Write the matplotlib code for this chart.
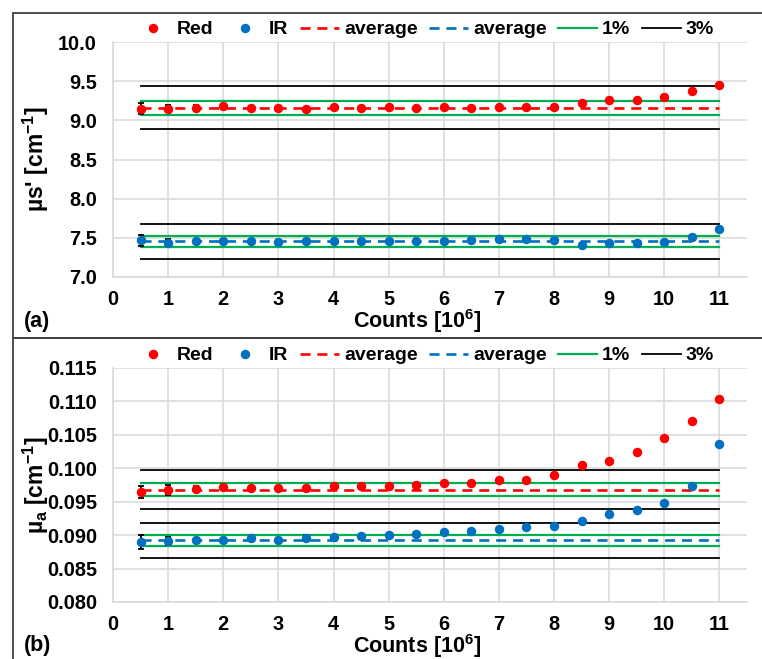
import numpy as np
import matplotlib
matplotlib.use("Agg")
import matplotlib.pyplot as plt
from matplotlib.patches import Rectangle
from matplotlib.ticker import FormatStrFormatter

plt.rcParams['font.family'] = ['Liberation Sans', 'DejaVu Sans']
plt.rcParams['font.weight'] = 'bold'
plt.rcParams['mathtext.fontset'] = 'custom'
plt.rcParams['mathtext.rm'] = 'Liberation Sans:bold'
plt.rcParams['mathtext.bf'] = 'Liberation Sans:bold'
plt.rcParams['mathtext.it'] = 'Liberation Sans:bold'

# conteos (10^6)
counts = [0.5, 1, 1.5, 2, 2.5, 3, 3.5, 4, 4.5, 5, 5.5, 6, 6.5, 7, 7.5, 8,
          8.5, 9, 9.5, 10, 10.5, 11]

# panel (a): mu_s'
mus_red = [9.15, 9.15, 9.16, 9.185, 9.16, 9.16, 9.145, 9.17, 9.16, 9.165, 9.155,
           9.165, 9.155, 9.175, 9.175, 9.175, 9.225, 9.255, 9.255, 9.30, 9.375, 9.455]
mus_red_err = [0.065, 0.045, 0.03, 0.02, 0.02, 0.02, 0.02, 0.02, 0.02, 0.02, 0.02,
               0.02, 0.02, 0.02, 0.02, 0.02, 0.02, 0.02, 0.02, 0.02, 0.02, 0.02]
mus_ir = [7.47, 7.44, 7.455, 7.465, 7.465, 7.45, 7.455, 7.465, 7.465, 7.465, 7.465,
          7.465, 7.475, 7.49, 7.485, 7.475, 7.41, 7.43, 7.43, 7.445, 7.505, 7.615]
mus_ir_err = [0.07, 0.04, 0.03, 0.02, 0.02, 0.02, 0.02, 0.02, 0.02, 0.02, 0.02,
              0.02, 0.02, 0.02, 0.02, 0.02, 0.02, 0.02, 0.02, 0.02, 0.02, 0.02]
mus_red_avg = 9.158
mus_ir_avg = 7.455

# panel (b): mu_a
mua_red = [0.0965, 0.0968, 0.0969, 0.0972, 0.0970, 0.0970, 0.0970, 0.0974, 0.0973,
           0.0974, 0.0975, 0.0978, 0.0978, 0.0982, 0.0983, 0.0990, 0.1005, 0.1011,
           0.1024, 0.1045, 0.1070, 0.1104]
mua_red_err = [0.0009, 0.00075, 0.00045, 0.0003, 0.0003, 0.0003, 0.0003, 0.0003,
               0.0003, 0.0003, 0.0003, 0.0003, 0.0003, 0.0003, 0.0003, 0.0003,
               0.0003, 0.0003, 0.0003, 0.0003, 0.0003, 0.0003]
mua_ir = [0.0890, 0.0891, 0.0893, 0.0893, 0.0895, 0.0892, 0.0895, 0.0897, 0.0899,
          0.0900, 0.0902, 0.0904, 0.0906, 0.0909, 0.0912, 0.0913, 0.0921, 0.0932,
          0.0937, 0.0948, 0.0973, 0.1037]
mua_ir_err = [0.001, 0.0006, 0.0003, 0.0003, 0.0003, 0.0003, 0.00045, 0.0003,
              0.0003, 0.0003, 0.0003, 0.0003, 0.0003, 0.0003, 0.0003, 0.0003,
              0.0003, 0.0003, 0.0003, 0.0003, 0.0003, 0.0003]
mua_red_avg = 0.0968
mua_ir_avg = 0.0892

x_ticks = list(range(0, 12))
mus_ticks = [7.0, 7.5, 8.0, 8.5, 9.0, 9.5, 10.0]
mua_ticks = [0.080, 0.085, 0.090, 0.095, 0.100, 0.105, 0.110, 0.115]

RED = '#FF0000'
BLUE = '#0070C0'
GREEN = '#00B050'
W, H = 762, 659


def graficar_panel(ax, rojo, rojo_err, ir, ir_err, avg_rojo, avg_ir,
                   yticks, formato, ylabel):
    x0, x1 = counts[0], counts[-1]
    # bandas de 3% y 1%
    for avg in [avg_rojo, avg_ir]:
        l3, = ax.plot([x0, x1], [avg * 1.03, avg * 1.03], color='black', lw=1.3, zorder=2)
        ax.plot([x0, x1], [avg * 0.97, avg * 0.97], color='black', lw=1.3, zorder=2)
        l1, = ax.plot([x0, x1], [avg * 1.01, avg * 1.01], color=GREEN, lw=1.6, zorder=2)
        ax.plot([x0, x1], [avg * 0.99, avg * 0.99], color=GREEN, lw=1.6, zorder=2)

    l_avg_r, = ax.plot([x0, x1], [avg_rojo, avg_rojo], color=RED, lw=1.9,
                       dashes=(3.8, 2.6), zorder=3)
    l_avg_b, = ax.plot([x0, x1], [avg_ir, avg_ir], color=BLUE, lw=1.9,
                       dashes=(3.8, 2.6), zorder=3)

    ax.errorbar(counts, rojo, yerr=rojo_err, fmt='none', ecolor='black',
                elinewidth=1.3, capsize=2.5, capthick=1.3, zorder=4)
    ax.errorbar(counts, ir, yerr=ir_err, fmt='none', ecolor='black',
                elinewidth=1.3, capsize=2.5, capthick=1.3, zorder=4)
    p_r, = ax.plot(counts, rojo, 'o', color=RED, ms=5.8, zorder=5)
    p_b, = ax.plot(counts, ir, 'o', color=BLUE, ms=5.8, zorder=5)

    ax.legend([p_r, p_b, l_avg_r, l_avg_b, l1, l3],
              ['Red', 'IR', 'average', 'average', '1%', '3%'],
              loc='center', bbox_to_anchor=(0.49, 1.053), ncol=6,
              frameon=False, fontsize=14, handlelength=2.0, handletextpad=0.25,
              columnspacing=0.6, borderaxespad=0)

    ax.set_xlim(0, 11.5)
    ax.set_ylim(yticks[0], yticks[-1])
    ax.set_xticks(x_ticks)
    ax.set_yticks(yticks)
    ax.yaxis.set_major_formatter(FormatStrFormatter(formato))
    ax.grid(True, color='#D9D9D9', lw=1.1, zorder=0)
    ax.set_axisbelow(True)
    for s in ['top', 'right']:
        ax.spines[s].set_visible(False)
    for s in ['left', 'bottom']:
        ax.spines[s].set_color('#D9D9D9')
        ax.spines[s].set_linewidth(1.1)
    ax.tick_params(axis='both', length=0, labelsize=14.3)
    ax.tick_params(axis='y', pad=11.5)
    ax.tick_params(axis='x', pad=9.5)
    ax.set_xlabel('Counts [10$^{\\mathregular{6}}$]', fontsize=15.5, fontweight='bold')
    ax.xaxis.set_label_coords(0.48, -0.127)
    ax.set_ylabel(ylabel, fontsize=16.5, fontweight='bold')
    ax.yaxis.set_label_coords(-0.098, 0.5)


fig = plt.figure(figsize=(W / 100, H / 100), dpi=100)
ax_a = fig.add_axes([113 / W, 1 - 277 / H, 634 / W, 235 / H])
ax_b = fig.add_axes([113 / W, 1 - 602 / H, 634 / W, 234 / H])

graficar_panel(ax_a, mus_red, mus_red_err, mus_ir, mus_ir_err, mus_red_avg, mus_ir_avg,
               mus_ticks, '%.1f', "µs' [cm$^{\\mathregular{-1}}$]")
graficar_panel(ax_b, mua_red, mua_red_err, mua_ir, mua_ir_err, mua_red_avg, mua_ir_avg,
               mua_ticks, '%.3f', 'µ$_{\\mathregular{a}}$ [cm$^{\\mathregular{-1}}$]')

# marcos exteriores
for y_top, y_bot in [(13, 338), (338, 660)]:
    fig.patches.append(Rectangle((13 / W, 1 - y_bot / H), 1.0, (y_bot - y_top) / H,
                                 transform=fig.transFigure, fill=False,
                                 edgecolor='#404040', lw=1.3))

fig.text(24 / W, 1 - 321 / H, '(a)', fontsize=15.5, fontweight='bold', va='center')
fig.text(24 / W, 1 - 645 / H, '(b)', fontsize=15.5, fontweight='bold', va='center')

fig.savefig('out.png', dpi=100)
